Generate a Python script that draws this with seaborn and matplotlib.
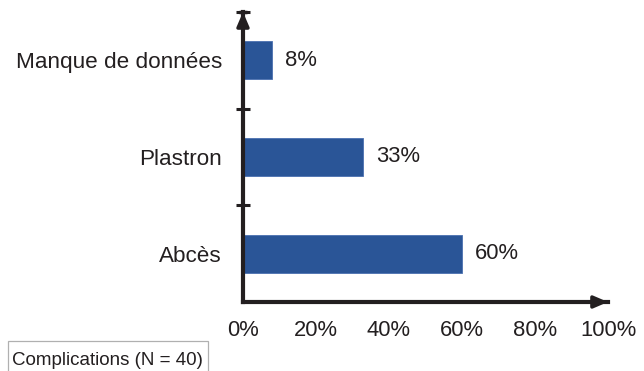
import matplotlib
matplotlib.use("Agg")
import matplotlib.pyplot as plt
import seaborn as sns
import pandas as pd
from matplotlib.ticker import FixedLocator
from matplotlib.patches import Rectangle

categories = ["Manque de données", "Plastron", "Abcès"]
percentages = [8, 33, 60]
value_labels = ["8%", "33%", "60%"]
x_ticks = [0, 20, 40, 60, 80, 100]
x_tick_labels = ["0%", "20%", "40%", "60%", "80%", "100%"]
caption = "Complications (N = 40)"

df = pd.DataFrame({"Complication": categories, "Pourcentage": percentages})

sns.set_theme(style="white")
plt.rcParams["font.family"] = ["Liberation Sans", "DejaVu Sans"]

axis_color = "#231f20"
bar_color = "#2a5597"

W, H = 644, 371
fig = plt.figure(figsize=(W / 100, H / 100), dpi=100)
ax = fig.add_axes([0.3773, 0.186, 0.5668, 0.7817])

sns.barplot(data=df, x="Pourcentage", y="Complication", order=categories,
            color=bar_color, saturation=1, width=0.39, orient="h", ax=ax,
            edgecolor="#4a70b0", linewidth=0.6)

ax.set_xlim(0, 100)
ax.set_ylim(2.5, -0.5)
ax.set_xlabel("")
ax.set_ylabel("")

ax.set_xticks(x_ticks)
ax.set_xticklabels(x_tick_labels)
ax.tick_params(axis="x", direction="out", length=5, width=3, color=axis_color,
               labelsize=15.8, labelcolor=axis_color, pad=8)

ax.tick_params(axis="y", which="major", length=0, labelsize=16.2,
               labelcolor=axis_color, pad=15)
ax.yaxis.set_minor_locator(FixedLocator([-0.5, 0.5, 1.5]))
ax.tick_params(axis="y", which="minor", direction="inout", length=10, width=2.2,
               color=axis_color, left=True)

for side in ["top", "right"]:
    ax.spines[side].set_visible(False)
for side in ["left", "bottom"]:
    ax.spines[side].set_color(axis_color)
    ax.spines[side].set_linewidth(3)

# arrowheads at the ends of both axes
ax.annotate("", xy=(1.0, 0), xytext=(0.97, 0), xycoords="axes fraction",
            arrowprops=dict(arrowstyle="-|>,head_length=0.7,head_width=0.3",
                            color=axis_color, lw=2.5, shrinkA=0, shrinkB=0))
ax.annotate("", xy=(0, 1.0), xytext=(0, 0.96), xycoords="axes fraction",
            arrowprops=dict(arrowstyle="-|>,head_length=0.7,head_width=0.3",
                            color=axis_color, lw=2.5, shrinkA=0, shrinkB=0))
ax.plot([-0.012, 0.012], [1.0, 1.0], transform=ax.transAxes, color=axis_color,
        lw=2.5, clip_on=False, solid_capstyle="butt")

ax.bar_label(ax.containers[0], labels=value_labels, padding=9,
             fontsize=15.8, color=axis_color)

# caption box in the lower-left corner
fig.patches.append(Rectangle((8 / W, -2 / H), 200 / W, 32 / H,
                             transform=fig.transFigure, facecolor="white",
                             edgecolor="#b0b0b0", linewidth=0.9))
fig.text(12 / W, 6 / H, caption, fontsize=13.5, color=axis_color,
         ha="left", va="baseline")

fig.savefig("out.png", dpi=100)
